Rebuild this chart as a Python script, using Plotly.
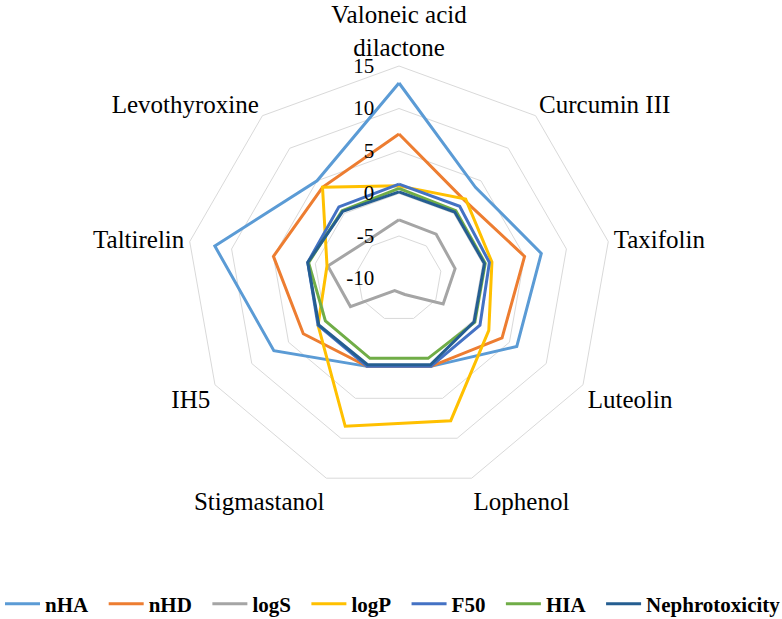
import plotly.graph_objects as go

categories = ["Valoneic acid<br>dilactone", "Curcumin III", "Taxifolin", "Luteolin",
              "Lophenol", "Stigmastanol", "IH5", "Taltirelin", "Levothyroxine"]

nHA = [13, 4, 7, 6, 1, 1, 7, 12, 5]
nHD = [7, 2, 5, 4, 1, 1, 3, 5, 4]
logS = [-3.1, -3.2, -3.3, -4.0, -8.0, -8.5, -3.4, -1.5, -4.2]
logP = [0.9, 2.2, 1.1, 2.2, 7.8, 8.5, 1.0, -1.4, 4.0]
F50 = [1.1, 1.1, 0.8, 1.0, 1.0, 1.0, 1.0, 0.9, 1.0]
HIA = [0.6, 0.4, 0.3, 0.3, 0.0, 0.0, 0.0, 0.8, 0.4]
Nephrotoxicity = [0.2, 0.2, 0.2, 0.2, 0.8, 0.8, 0.9, 0.9, 0.3]

series_names = ["nHA", "nHD", "logS", "logP", "F50", "HIA", "Nephrotoxicity"]
series_values = [nHA, nHD, logS, logP, F50, HIA, Nephrotoxicity]
colors = ["#5B9BD5", "#ED7D31", "#A5A5A5", "#FFC000", "#4472C4", "#70AD47", "#255E91"]

radial_ticks = [-10, -5, 0, 5, 10, 15]

NBSP = "\u00a0"

fig = go.Figure()
for i, (name, vals, col) in enumerate(zip(series_names, series_values, colors)):
    # trailing no-break spaces widen the gap between legend entries
    label = name + (NBSP * 2 if i < len(series_names) - 1 else "")
    fig.add_trace(go.Scatterpolar(
        r=vals + [vals[0]],
        theta=categories + [categories[0]],
        mode="lines",
        name=label,
        line=dict(color=col, width=3),
    ))

W, H = 782, 619
cx, cy, R = 399, 278.5, 212.5
fig.update_layout(
    width=W, height=H,
    margin=dict(l=0, r=0, t=0, b=0, autoexpand=False),
    paper_bgcolor="white",
    plot_bgcolor="white",
    font=dict(family="Liberation Serif", color="black"),
    polar=dict(
        domain=dict(x=[(cx - R) / W, (cx + R) / W], y=[1 - (cy + R) / H, 1 - (cy - R) / H]),
        bgcolor="white",
        gridshape="linear",
        angularaxis=dict(
            rotation=90, direction="clockwise",
            showgrid=False, showline=True, linecolor="#D9D9D9", linewidth=1,
            ticks="", tickfont=dict(size=25, family="Liberation Serif", color="black"),
        ),
        radialaxis=dict(
            range=[-10, 15], tickvals=radial_ticks,
            # trailing no-break spaces move the labels to the left of the axis
            ticktext=[str(t) + NBSP * 4 for t in radial_ticks],
            angle=90, tickangle=90, side="counterclockwise",
            showline=False, ticks="", showgrid=True, gridcolor="#D9D9D9", gridwidth=1,
            tickfont=dict(size=21, family="Liberation Serif", color="black"),
        ),
    ),
    legend=dict(
        orientation="h", xref="container", yref="container",
        x=0.0, xanchor="left", y=15 / H, yanchor="middle",
        font=dict(size=21, family="Liberation Serif", color="black", weight="bold"),
        itemwidth=35,
    ),
    showlegend=True,
)

fig.write_html("out.html")
